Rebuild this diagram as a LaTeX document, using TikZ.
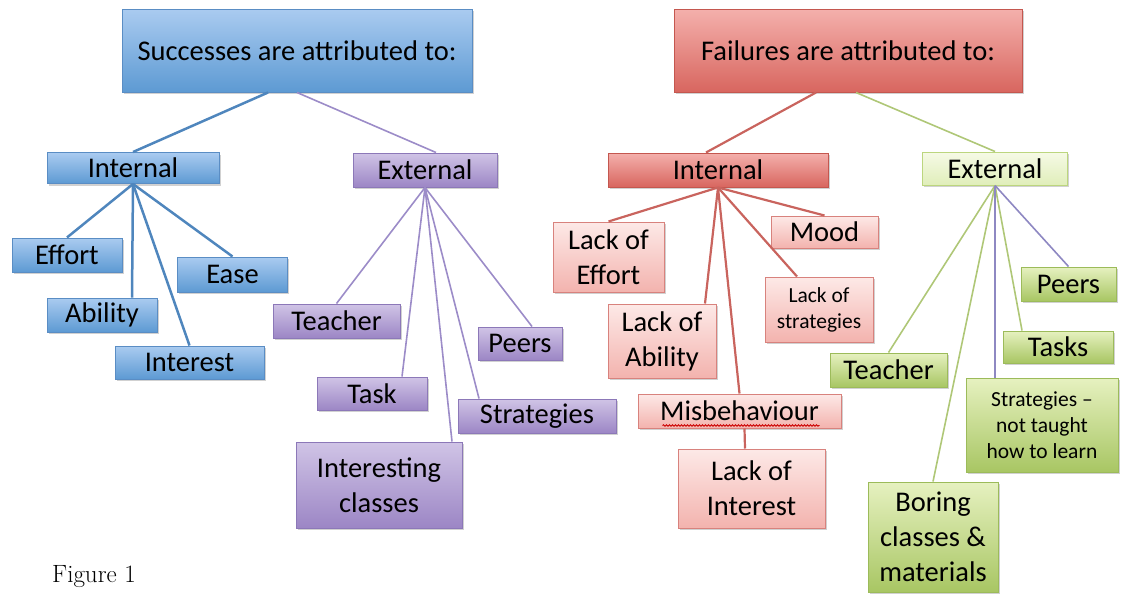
\documentclass[tikz,border=0pt]{standalone}
\usepackage{fontspec}
\setsansfont{Carlito}
\usetikzlibrary{shadows,decorations.pathmorphing}

% box colours (top / bottom / edge)
\definecolor{blueTop}{HTML}{AACBF0}
\definecolor{blueBot}{HTML}{5D9AD3}
\definecolor{blueEdge}{HTML}{5A8DC4}
\definecolor{purpleTop}{HTML}{D0C4E6}
\definecolor{purpleBot}{HTML}{9C86C5}
\definecolor{purpleEdge}{HTML}{8C78B8}
\definecolor{redTop}{HTML}{F4B0AC}
\definecolor{redBot}{HTML}{D8665F}
\definecolor{redEdge}{HTML}{C4574F}
\definecolor{pinkTop}{HTML}{FDE9E7}
\definecolor{pinkBot}{HTML}{F3B3AE}
\definecolor{pinkEdge}{HTML}{D8827D}
\definecolor{limeTop}{HTML}{F6FAE6}
\definecolor{limeBot}{HTML}{E0EEBA}
\definecolor{limeEdge}{HTML}{BCD67E}
\definecolor{greenTop}{HTML}{E6F1C0}
\definecolor{greenBot}{HTML}{A8C663}
\definecolor{greenEdge}{HTML}{9CBB5A}
% connector colours
\definecolor{blueLine}{HTML}{4F86BD}
\definecolor{purpleLine}{HTML}{9C8CC8}
\definecolor{redLine}{HTML}{C9645E}
\definecolor{greenLine}{HTML}{AFC777}
\definecolor{violetLine}{HTML}{8E88C2}

\begin{document}
\begin{tikzpicture}[x=1pt,y=-1pt,
        box/.style={
            rectangle, draw, line width=1pt,
            inner sep=0pt, align=center,
            font=\sffamily\fontsize{28.5}{35}\selectfont,
            drop shadow={shadow xshift=1.5pt, shadow yshift=-2pt,
                opacity=.3, fill=black!60}
        },
        boxsize/.style 2 args={minimum width=#1pt, minimum height=#2pt},
        smalltext/.style={font=\sffamily\fontsize{21.5}{26}\selectfont},
        bluebox/.style={box, draw=blueEdge, top color=blueTop, bottom color=blueBot},
        purplebox/.style={box, draw=purpleEdge, top color=purpleTop, bottom color=purpleBot},
        redbox/.style={box, draw=redEdge, top color=redTop, bottom color=redBot},
        pinkbox/.style={box, draw=pinkEdge, top color=pinkTop, bottom color=pinkBot},
        limebox/.style={box, draw=limeEdge, top color=limeTop, bottom color=limeBot},
        greenbox/.style={box, draw=greenEdge, top color=greenTop, bottom color=greenBot},
        bluelink/.style={draw=blueLine, line width=2.5pt},
        purplelink/.style={draw=purpleLine, line width=1.6pt},
        redlink/.style={draw=redLine, line width=2.2pt},
        greenlink/.style={draw=greenLine, line width=1.6pt},
        violetlink/.style={draw=violetLine, line width=1.6pt}
    ]
\useasboundingbox (0,0) rectangle (1124,603);

% Successes: top box and its two branches
\node[bluebox, boxsize={350}{83}] (succ) at (297,50.5) {Successes are attributed to:};
\node[bluebox, boxsize={172}{31}] (lint) at (133,168) {Internal};
\node[purplebox, boxsize={144}{34}] (lext) at (425,170) {External};

\node[bluebox, boxsize={110}{34}] (effort) at (67,255) {Effort};
\node[bluebox, boxsize={110}{35}] (ease) at (232.5,274.5) {Ease};
\node[bluebox, boxsize={110}{34}] (ability) at (102,315) {Ability};
\node[bluebox, boxsize={149}{33}] (interest) at (189.5,362.5) {Interest};

\node[purplebox, boxsize={127}{34}] (lteacher) at (336.5,321) {Teacher};
\node[purplebox, boxsize={84}{33}] (lpeers) at (520,343.5) {Peers};
\node[purplebox, boxsize={110}{33}] (ltask) at (372,393.5) {Task};
\node[purplebox, boxsize={158}{34}] (lstrat) at (537,416) {Strategies};
\node[purplebox, boxsize={166}{86}] (linter) at (379,485) {Interesting\\classes};

% Failures: top box and its two branches
\node[redbox, boxsize={348}{83}] (fail) at (848,50.5) {Failures are attributed to:};
\node[redbox, boxsize={220}{34}] (rint) at (718,170) {Internal};
\node[limebox, boxsize={145}{33}] (rext) at (995,168.5) {External};

\node[pinkbox, boxsize={111}{70}] (reffort) at (608.5,257) {Lack of\\Effort};
\node[pinkbox, boxsize={107}{32}] (mood) at (824.5,232) {Mood};
\node[pinkbox, boxsize={108}{65}, smalltext] (rstrat) at (819,309.5) {Lack of\\strategies};
\node[pinkbox, boxsize={108}{74}] (rability) at (662,341) {Lack of\\Ability};
\node[pinkbox, boxsize={203}{34}] (misb) at (739.5,411) {Misbehaviour};
\node[pinkbox, boxsize={147}{79}] (rinterest) at (751.5,488.5) {Lack of\\Interest};

\node[greenbox, boxsize={95}{34}] (rpeers) at (1068.5,284) {Peers};
\node[greenbox, boxsize={110}{32}] (rtasks) at (1058,347) {Tasks};
\node[greenbox, boxsize={117}{34}] (rteacher) at (888.5,370) {Teacher};
\node[greenbox, boxsize={152}{94}, smalltext] (rstrat2) at (1042,425) {Strategies --\\not taught\\how to learn};
\node[greenbox, boxsize={130}{110}] (boring) at (933,537) {Boring\\classes \&\\materials};

% spell-check underline
\draw[red!80!black, line width=0.9pt, decorate,
      decoration={snake, amplitude=0.7pt, segment length=3pt}]
  ([xshift=-77pt,yshift=3pt]misb.south) -- ([xshift=80pt,yshift=3pt]misb.south);

% connectors
\draw[bluelink] ([xshift=-29pt]succ.south) -- (lint.north);
\draw[purplelink] (succ.south) -- ([xshift=11pt]lext.north);
\draw[redlink] ([xshift=-32pt]fail.south) -- ([xshift=-12pt]rint.north);
\draw[greenlink] ([xshift=8pt]fail.south) -- (rext.north);

\foreach \t in {effort.north, ease.north, interest.north}
    \draw[bluelink] (lint.south) -- (\t);
\draw[bluelink] (lint.south) -- ([xshift=30pt]ability.north);

\draw[purplelink] (lext.south) -- (lteacher.north);
\draw[purplelink] (lext.south) -- ([xshift=30pt]ltask.north);
\draw[purplelink] (lext.south) -- ([xshift=12pt]lpeers.north);
\draw[purplelink] (lext.south) -- ([xshift=-58pt]lstrat.north);
\draw[purplelink] (lext.south) -- ([xshift=73pt]linter.north);

\foreach \t in {reffort.north, mood.north, misb.north}
    \draw[redlink] (rint.south) -- (\t);
\draw[redlink] (rint.south) -- ([xshift=-22pt]rstrat.north);
\draw[redlink] (rint.south) -- ([xshift=43pt]rability.north);
\draw[redlink] ([xshift=5pt]misb.south) -- ([xshift=-6.5pt]rinterest.north);

\draw[greenlink] (rext.south) -- (rteacher.north);
\draw[greenlink] (rext.south) -- (boring.north);
\draw[greenlink] (rext.south) -- ([xshift=-36pt]rtasks.north);
\draw[violetlink] (rext.south) -- ([xshift=-47pt]rstrat2.north);
\draw[violetlink] (rext.south) -- (rpeers.north);

% caption
\node[anchor=west, inner sep=0pt, font=\fontsize{25}{30}\selectfont] (caption) at (52,577) {Figure 1};

\end{tikzpicture}
\end{document}
